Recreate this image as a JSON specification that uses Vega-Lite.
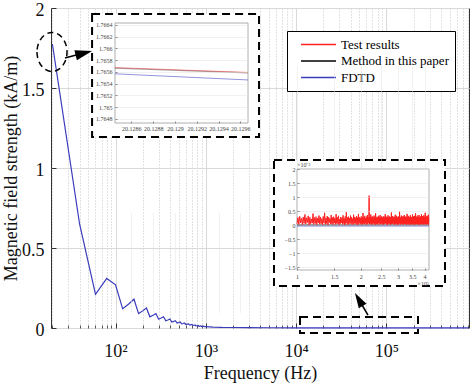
{
  "$schema": "https://vega.github.io/schema/vega-lite/v6.json",
  "width": 418,
  "height": 320,
  "autosize": {"type": "none"},
  "padding": {"left": 51, "top": 8, "right": 5, "bottom": 56},
  "background": "white",
  "config": {
    "view": {"stroke": "#333333", "strokeWidth": 1},
    "font": "Liberation Serif"
  },
  "layer": [
    {
      "layer": [
        {
          "data": {"values": [
            {"f1": 55.0, "f2": 3880, "v1": 1.19375, "v2": 1.9625},
            {"f1": 5684, "f2": 444600, "v1": 0.2625, "v2": 1.05}
          ]},
          "mark": {"type": "rect", "fill": "white", "stroke": "black", "strokeWidth": 2, "strokeDash": [8, 5]},
          "encoding": {
            "x": {"field": "f1", "type": "quantitative", "scale": {"type": "log", "domain": [19.3, 820000], "nice": false},
              "axis": {"orient": "bottom", "values": [20,30,40,50,60,70,80,90,200,300,400,500,600,700,800,900,2000,3000,4000,5000,6000,7000,8000,9000,20000,30000,40000,50000,60000,70000,80000,90000,200000,300000,400000,500000,600000,700000,800000],
                "labels": false, "ticks": true, "tickSize": -3, "tickColor": "#555555", "domain": false, "grid": true, "gridColor": "#c4c4c4", "gridDash": [1, 2], "title": null, "zindex": 0}},
            "x2": {"field": "f2"},
            "y": {"field": "v1", "type": "quantitative", "scale": {"domain": [0, 2], "nice": false, "zero": false}, "axis": null},
            "y2": {"field": "v2"}
          }
        },
        {
          "data": {"values": [{"f1": 11030, "f2": 223400, "v1": -0.03125, "v2": 0.06875}]},
          "mark": {"type": "rect", "fill": "transparent", "stroke": "black", "strokeWidth": 2, "strokeDash": [8, 5]},
          "encoding": {
            "x": {"field": "f1", "type": "quantitative", "axis": null},
            "x2": {"field": "f2"},
            "y": {"field": "v1", "type": "quantitative", "axis": null},
            "y2": {"field": "v2"}
          }
        },
        {
          "data": {"values": [
            {"f": 20, "v": 1.775}, {"f": 40, "v": 0.65}, {"f": 60, "v": 0.21}, {"f": 80, "v": 0.31},
            {"f": 100, "v": 0.27}, {"f": 120, "v": 0.12}, {"f": 140, "v": 0.15}, {"f": 160, "v": 0.18},
            {"f": 180, "v": 0.09}, {"f": 200, "v": 0.107}, {"f": 220, "v": 0.125}, {"f": 240, "v": 0.07},
            {"f": 260, "v": 0.08}, {"f": 280, "v": 0.09}, {"f": 300, "v": 0.055}, {"f": 320, "v": 0.062},
            {"f": 340, "v": 0.07}, {"f": 360, "v": 0.045}, {"f": 380, "v": 0.05}, {"f": 400, "v": 0.056},
            {"f": 420, "v": 0.037}, {"f": 440, "v": 0.041}, {"f": 460, "v": 0.046}, {"f": 480, "v": 0.031},
            {"f": 500, "v": 0.034}, {"f": 520, "v": 0.038}, {"f": 540, "v": 0.026}, {"f": 560, "v": 0.028},
            {"f": 580, "v": 0.031}, {"f": 600, "v": 0.022}, {"f": 620, "v": 0.024}, {"f": 640, "v": 0.026},
            {"f": 660, "v": 0.019}, {"f": 680, "v": 0.02}, {"f": 700, "v": 0.022}, {"f": 720, "v": 0.016},
            {"f": 740, "v": 0.017}, {"f": 760, "v": 0.019}, {"f": 780, "v": 0.013}, {"f": 800, "v": 0.014},
            {"f": 820, "v": 0.016}, {"f": 840, "v": 0.011}, {"f": 860, "v": 0.012}, {"f": 880, "v": 0.013},
            {"f": 900, "v": 0.009}, {"f": 920, "v": 0.01}, {"f": 940, "v": 0.011}, {"f": 960, "v": 0.008},
            {"f": 980, "v": 0.0085}, {"f": 1000, "v": 0.009}, {"f": 1200, "v": 0.006}, {"f": 1500, "v": 0.004},
            {"f": 2000, "v": 0.003}, {"f": 3000, "v": 0.002}, {"f": 5000, "v": 0.0015}, {"f": 10000, "v": 0.001},
            {"f": 100000, "v": 0.0006}, {"f": 820000, "v": 0.0005}
          ]},
          "mark": {"type": "line", "strokeWidth": 1.2},
          "encoding": {
            "x": {"field": "f", "type": "quantitative",
              "axis": {"orient": "bottom", "values": [100, 1000, 10000, 100000],
                "labelExpr": "datum.value == 100 ? '10²' : datum.value == 1000 ? '10³' : datum.value == 10000 ? '10⁴' : '10⁵'",
                "labelFont": "Liberation Serif", "labelFontSize": 18, "labelColor": "#111111", "labelPadding": 19,
                "tickSize": -5, "tickColor": "#333333", "domain": false, "grid": true, "gridColor": "#d9d9d9",
                "title": "Frequency (Hz)", "titleFont": "Liberation Serif", "titleFontSize": 18, "titleFontWeight": "normal",
                "titleColor": "#111111", "titleX": 209, "titleY": 50, "titleBaseline": "alphabetic", "titleAlign": "center",
                "zindex": 0, "labelFlush": false, "labelOverlap": false}},
            "y": {"field": "v", "type": "quantitative",
              "axis": {"orient": "left", "values": [0, 0.5, 1, 1.5, 2], "format": ".1~f",
                "labelFont": "Liberation Serif", "labelFontSize": 18, "labelColor": "#111111", "labelPadding": 12, "labelOffset": 2,
                "tickSize": -5, "tickColor": "#333333", "domain": false, "grid": true, "gridColor": "#d9d9d9",
                "title": "Magnetic field strength (kA/m)", "titleFont": "Liberation Serif", "titleFontSize": 18,
                "titleFontWeight": "normal", "titleColor": "#111111", "titleX": -35, "titleY": 160,
                "titleBaseline": "alphabetic", "titleAlign": "center", "zindex": 0, "labelFlush": false}},
            "color": {"datum": "FDTD", "type": "nominal",
              "scale": {"domain": ["Test results", "Method in this paper", "FDTD"], "range": ["#ff2020", "#000000", "#3b3bbd"]},
              "legend": {"orient": "none", "legendX": 236, "legendY": 23, "title": null, "strokeColor": "black",
                "fillColor": "white", "padding": 6, "labelFont": "Liberation Serif", "labelFontSize": 13, "labelColor": "black",
                "symbolType": "M0.08,0L5.46,0", "symbolSize": 169, "symbolStrokeWidth": 1.5, "rowPadding": 1.5, "labelOffset": 33}}
          }
        },
        {
          "data": {"values": [{}]},
          "mark": {"type": "point", "shape": "M-0.77,0A0.77,1,0,1,0,0.77,0A0.77,1,0,1,0,-0.77,0Z", "size": 1521,
            "stroke": "black", "strokeWidth": 1.5, "strokeDash": [6, 4], "filled": false, "opacity": 1},
          "encoding": {
            "x": {"datum": 19.8, "type": "quantitative", "axis": null},
            "y": {"datum": 1.725, "type": "quantitative", "axis": null}
          }
        },
        {
          "data": {"values": [
            {"f1": 27.6, "v1": 1.6875, "f2": 38.5, "v2": 1.709},
            {"f1": 62420, "v1": 0.081, "f2": 52890, "v2": 0.15}
          ]},
          "mark": {"type": "rule", "stroke": "black", "strokeWidth": 1.5},
          "encoding": {
            "x": {"field": "f1", "type": "quantitative", "axis": null},
            "x2": {"field": "f2"},
            "y": {"field": "v1", "type": "quantitative", "axis": null},
            "y2": {"field": "v2"}
          }
        },
        {
          "data": {"values": [{}]},
          "mark": {"type": "point", "shape": "M1,0L-1,-0.6L-1,0.6Z", "size": 289, "angle": 345.5, "filled": true, "fill": "black", "opacity": 1},
          "encoding": {
            "x": {"datum": 44.6, "type": "quantitative", "axis": null},
            "y": {"datum": 1.718, "type": "quantitative", "axis": null}
          }
        },
        {
          "data": {"values": [{}]},
          "mark": {"type": "point", "shape": "M1,0L-1,-0.6L-1,0.6Z", "size": 225, "angle": 239.4, "filled": true, "fill": "black", "opacity": 1},
          "encoding": {
            "x": {"datum": 49380, "type": "quantitative", "axis": null},
            "y": {"datum": 0.178, "type": "quantitative", "axis": null}
          }
        }
      ],
      "resolve": {"axis": {"x": "independent", "y": "independent"}}
    },
    {
      "layer": [
        {
          "data": {"values": [{}]},
          "mark": {"type": "rect", "fill": "white", "stroke": "#9a9a9a", "strokeWidth": 0.8},
          "encoding": {
            "x": {"datum": 20.12845, "type": "quantitative",
              "scale": {"domain": [20.12845, 20.12967], "range": [64, 197], "nice": false, "zero": false},
              "axis": {"orient": "bottom", "offset": -205, "values": [20.1286, 20.1288, 20.129, 20.1292, 20.1294, 20.1296],
                "format": ".4~f", "labelFont": "Liberation Serif", "labelFontSize": 6, "labelColor": "#444444", "labelPadding": 4,
                "tickSize": -2, "tickColor": "#888888", "domain": false, "grid": true, "gridColor": "#e3e3e3", "gridDash": [1, 1],
                "title": null, "zindex": 1, "labelFlush": false, "labelOverlap": false}},
            "x2": {"datum": 20.12967},
            "y": {"datum": 1.76473, "type": "quantitative",
              "scale": {"domain": [1.76473, 1.76643], "range": [115, 15], "nice": false, "zero": false},
              "axis": {"orient": "left", "offset": -64, "values": [1.7648, 1.765, 1.7652, 1.7654, 1.7656, 1.7658, 1.766, 1.7662, 1.7664],
                "format": ".4~f", "labelFont": "Liberation Serif", "labelFontSize": 6, "labelColor": "#444444", "labelPadding": 5,
                "tickSize": -2, "tickColor": "#888888", "domain": false, "grid": true, "gridColor": "#e3e3e3", "gridDash": [1, 1],
                "title": null, "zindex": 1, "labelOverlap": false}},
            "y2": {"datum": 1.76643}
          }
        },
        {
          "data": {"values": [
            {"f": 20.12845, "v": 1.765566, "s": "FDTD"}, {"f": 20.12967, "v": 1.765462, "s": "FDTD"}
          ]},
          "mark": {"type": "line", "strokeWidth": 1, "opacity": 0.55},
          "encoding": {
            "x": {"field": "f", "type": "quantitative", "axis": null},
            "y": {"field": "v", "type": "quantitative", "axis": null},
            "color": {"field": "s", "type": "nominal", "legend": null}
          }
        },
        {
          "data": {"values": [
            {"f": 20.12845, "v": 1.765664, "s": "Method in this paper"}, {"f": 20.12967, "v": 1.765582, "s": "Method in this paper"}
          ]},
          "mark": {"type": "line", "strokeWidth": 1.2, "opacity": 0.35},
          "encoding": {
            "x": {"field": "f", "type": "quantitative", "axis": null},
            "y": {"field": "v", "type": "quantitative", "axis": null},
            "color": {"field": "s", "type": "nominal", "legend": null}
          }
        },
        {
          "data": {"values": [
            {"f": 20.12845, "v": 1.765672, "s": "Test results"}, {"f": 20.12967, "v": 1.76559, "s": "Test results"}
          ]},
          "mark": {"type": "line", "strokeWidth": 1, "opacity": 0.45},
          "encoding": {
            "x": {"field": "f", "type": "quantitative", "axis": null},
            "y": {"field": "v", "type": "quantitative", "axis": null},
            "color": {"field": "s", "type": "nominal", "legend": null}
          }
        }
      ],
      "resolve": {"axis": {"x": "independent", "y": "independent"}}
    },
    {
      "layer": [
        {
          "data": {"values": [{}]},
          "mark": {"type": "rect", "fill": "white", "stroke": "#9a9a9a", "strokeWidth": 0.8},
          "encoding": {
            "x": {"datum": 1, "type": "quantitative",
              "scale": {"type": "log", "domain": [1, 4.2], "range": [246, 378], "nice": false},
              "axis": {"orient": "bottom", "offset": -58, "values": [1, 1.5, 2, 2.5, 3, 3.5, 4],
                "format": "~g", "labelFont": "Liberation Serif", "labelFontSize": 6, "labelColor": "#444444", "labelPadding": 5,
                "tickSize": -2, "tickColor": "#888888", "domain": false, "grid": true, "gridColor": "#e3e3e3", "gridDash": [1, 1],
                "title": null, "zindex": 1, "labelFlush": false, "labelOverlap": false}},
            "x2": {"datum": 4.2},
            "y": {"datum": -1.6, "type": "quantitative",
              "scale": {"domain": [-1.6, 2], "range": [262, 161], "nice": false, "zero": false},
              "axis": {"orient": "left", "offset": -246, "values": [-1.5, -1, -0.5, 0, 0.5, 1, 1.5, 2],
                "format": "~g", "labelFont": "Liberation Serif", "labelFontSize": 6, "labelColor": "#444444", "labelPadding": 4,
                "tickSize": -2, "tickColor": "#888888", "domain": false, "grid": true, "gridColor": "#e3e3e3", "gridDash": [1, 1],
                "title": null, "zindex": 1, "labelOverlap": false}},
            "y2": {"datum": 2}
          }
        },
        {
          "data": {"values": [
            {"f": 1, "v": 0.0, "s": "Method in this paper"}, {"f": 4.2, "v": 0.0, "s": "Method in this paper"}
          ]},
          "mark": {"type": "line", "strokeWidth": 1},
          "encoding": {
            "x": {"field": "f", "type": "quantitative", "axis": null},
            "y": {"field": "v", "type": "quantitative", "axis": null},
            "color": {"field": "s", "type": "nominal", "legend": null}
          }
        },
        {
          "data": {"values": [
            {"f": 1, "v": -0.03, "s": "FDTD"}, {"f": 4.2, "v": -0.03, "s": "FDTD"}
          ]},
          "mark": {"type": "line", "strokeWidth": 1, "opacity": 0.7},
          "encoding": {
            "x": {"field": "f", "type": "quantitative", "axis": null},
            "y": {"field": "v", "type": "quantitative", "axis": null},
            "color": {"field": "s", "type": "nominal", "legend": null}
          }
        },
        {
          "data": {"values": [
            {"f":1.00,"v":0.05},{"f":1.01,"v":0.27},{"f":1.02,"v":0.03},{"f":1.03,"v":0.31},{"f":1.04,"v":0.08},{"f":1.05,"v":0.24},{"f":1.06,"v":0.02},{"f":1.07,"v":0.29},{"f":1.08,"v":0.06},{"f":1.09,"v":0.38},
            {"f":1.10,"v":0.04},{"f":1.11,"v":0.26},{"f":1.12,"v":0.09},{"f":1.13,"v":0.33},{"f":1.14,"v":0.01},{"f":1.15,"v":0.28},{"f":1.16,"v":0.05},{"f":1.17,"v":0.22},{"f":1.18,"v":0.07},{"f":1.19,"v":0.41},
            {"f":1.20,"v":0.03},{"f":1.21,"v":0.27},{"f":1.22,"v":0.06},{"f":1.23,"v":0.30},{"f":1.24,"v":0.02},{"f":1.25,"v":0.25},{"f":1.26,"v":0.08},{"f":1.27,"v":0.34},{"f":1.28,"v":0.04},{"f":1.29,"v":0.29},
            {"f":1.30,"v":0.05},{"f":1.31,"v":0.23},{"f":1.32,"v":0.02},{"f":1.33,"v":0.31},{"f":1.34,"v":0.07},{"f":1.35,"v":0.44},{"f":1.36,"v":0.03},{"f":1.37,"v":0.26},{"f":1.38,"v":0.06},{"f":1.39,"v":0.32},
            {"f":1.40,"v":0.01},{"f":1.41,"v":0.28},{"f":1.42,"v":0.09},{"f":1.43,"v":0.24},{"f":1.44,"v":0.04},{"f":1.45,"v":0.36},{"f":1.46,"v":0.05},{"f":1.47,"v":0.27},{"f":1.48,"v":0.02},{"f":1.49,"v":0.30},
            {"f":1.50,"v":0.07},{"f":1.51,"v":0.25},{"f":1.52,"v":0.03},{"f":1.53,"v":0.39},{"f":1.54,"v":0.06},{"f":1.55,"v":0.28},{"f":1.56,"v":0.04},{"f":1.57,"v":0.33},{"f":1.58,"v":0.02},{"f":1.59,"v":0.21},
            {"f":1.60,"v":0.05},{"f":1.61,"v":0.29},{"f":1.62,"v":0.08},{"f":1.63,"v":0.26},{"f":1.64,"v":0.03},{"f":1.65,"v":0.35},{"f":1.66,"v":0.06},{"f":1.67,"v":0.24},{"f":1.68,"v":0.01},{"f":1.69,"v":0.31},
            {"f":1.70,"v":0.05},{"f":1.71,"v":0.46},{"f":1.72,"v":0.07},{"f":1.73,"v":0.27},{"f":1.74,"v":0.02},{"f":1.75,"v":0.30},{"f":1.76,"v":0.04},{"f":1.77,"v":0.25},{"f":1.78,"v":0.09},{"f":1.79,"v":0.34},
            {"f":1.80,"v":0.03},{"f":1.81,"v":0.28},{"f":1.82,"v":0.06},{"f":1.83,"v":0.23},{"f":1.84,"v":0.02},{"f":1.85,"v":0.37},{"f":1.86,"v":0.05},{"f":1.87,"v":0.29},{"f":1.88,"v":0.07},{"f":1.89,"v":0.26},
            {"f":1.90,"v":0.03},{"f":1.91,"v":0.32},{"f":1.92,"v":0.06},{"f":1.93,"v":0.27},{"f":1.94,"v":0.01},{"f":1.95,"v":0.40},{"f":1.96,"v":0.04},{"f":1.97,"v":0.28},{"f":1.98,"v":0.08},{"f":1.99,"v":0.25},
            {"f":2.00,"v":0.03},{"f":2.01,"v":0.31},{"f":2.02,"v":0.05},{"f":2.03,"v":0.29},{"f":2.04,"v":0.02},{"f":2.05,"v":0.43},{"f":2.06,"v":0.06},{"f":2.07,"v":0.26},{"f":2.08,"v":0.04},{"f":2.09,"v":0.33},
            {"f":2.10,"v":0.07},{"f":2.11,"v":0.24},{"f":2.12,"v":0.02},{"f":2.13,"v":0.30},{"f":2.14,"v":0.05},{"f":2.15,"v":0.36},{"f":2.16,"v":0.03},{"f":2.17,"v":0.27},{"f":2.18,"v":0.08},{"f":2.19,"v":1.05},
            {"f":2.20,"v":0.04},{"f":2.21,"v":0.25},{"f":2.22,"v":0.06},{"f":2.23,"v":0.38},{"f":2.24,"v":0.02},{"f":2.25,"v":0.28},{"f":2.26,"v":0.05},{"f":2.27,"v":0.31},{"f":2.28,"v":0.03},{"f":2.29,"v":0.26},
            {"f":2.30,"v":0.07},{"f":2.31,"v":0.34},{"f":2.32,"v":0.04},{"f":2.33,"v":0.29},{"f":2.34,"v":0.01},{"f":2.35,"v":0.42},{"f":2.36,"v":0.06},{"f":2.37,"v":0.27},{"f":2.38,"v":0.03},{"f":2.39,"v":0.30},
            {"f":2.40,"v":0.05},{"f":2.41,"v":0.25},{"f":2.42,"v":0.08},{"f":2.43,"v":0.33},{"f":2.44,"v":0.02},{"f":2.45,"v":0.28},{"f":2.46,"v":0.06},{"f":2.47,"v":0.36},{"f":2.48,"v":0.04},{"f":2.49,"v":0.26},
            {"f":2.50,"v":0.07},{"f":2.51,"v":0.31},{"f":2.52,"v":0.03},{"f":2.53,"v":0.29},{"f":2.54,"v":0.05},{"f":2.55,"v":0.24},{"f":2.56,"v":0.02},{"f":2.57,"v":0.32},{"f":2.58,"v":0.06},{"f":2.59,"v":0.27},
            {"f":2.60,"v":0.04},{"f":2.61,"v":0.39},{"f":2.62,"v":0.08},{"f":2.63,"v":0.25},{"f":2.64,"v":0.03},{"f":2.65,"v":0.30},{"f":2.66,"v":0.05},{"f":2.67,"v":0.28},{"f":2.68,"v":0.01},{"f":2.69,"v":0.35},
            {"f":2.70,"v":0.06},{"f":2.71,"v":0.26},{"f":2.72,"v":0.04},{"f":2.73,"v":0.31},{"f":2.74,"v":0.07},{"f":2.75,"v":0.23},{"f":2.76,"v":0.02},{"f":2.77,"v":0.29},{"f":2.78,"v":0.05},{"f":2.79,"v":0.45},
            {"f":2.80,"v":0.03},{"f":2.81,"v":0.27},{"f":2.82,"v":0.06},{"f":2.83,"v":0.32},{"f":2.84,"v":0.04},{"f":2.85,"v":0.25},{"f":2.86,"v":0.08},{"f":2.87,"v":0.30},{"f":2.88,"v":0.02},{"f":2.89,"v":0.28},
            {"f":2.90,"v":0.05},{"f":2.91,"v":0.37},{"f":2.92,"v":0.03},{"f":2.93,"v":0.26},{"f":2.94,"v":0.07},{"f":2.95,"v":0.33},{"f":2.96,"v":0.04},{"f":2.97,"v":0.29},{"f":2.98,"v":0.01},{"f":2.99,"v":0.24},
            {"f":3.00,"v":0.06},{"f":3.01,"v":0.31},{"f":3.02,"v":0.03},{"f":3.03,"v":0.27},{"f":3.04,"v":0.05},{"f":3.05,"v":0.48},{"f":3.06,"v":0.08},{"f":3.07,"v":0.28},{"f":3.08,"v":0.02},{"f":3.09,"v":0.25},
            {"f":3.10,"v":0.04},{"f":3.11,"v":0.34},{"f":3.12,"v":0.06},{"f":3.13,"v":0.30},{"f":3.14,"v":0.03},{"f":3.15,"v":0.26},{"f":3.16,"v":0.07},{"f":3.17,"v":0.32},{"f":3.18,"v":0.02},{"f":3.19,"v":0.28},
            {"f":3.20,"v":0.05},{"f":3.21,"v":0.36},{"f":3.22,"v":0.04},{"f":3.23,"v":0.24},{"f":3.24,"v":0.08},{"f":3.25,"v":0.29},{"f":3.26,"v":0.03},{"f":3.27,"v":0.31},{"f":3.28,"v":0.06},{"f":3.29,"v":0.27},
            {"f":3.30,"v":0.02},{"f":3.31,"v":0.40},{"f":3.32,"v":0.05},{"f":3.33,"v":0.26},{"f":3.34,"v":0.07},{"f":3.35,"v":0.33},{"f":3.36,"v":0.03},{"f":3.37,"v":0.28},{"f":3.38,"v":0.04},{"f":3.39,"v":0.25},
            {"f":3.40,"v":0.06},{"f":3.41,"v":0.30},{"f":3.42,"v":0.01},{"f":3.43,"v":0.35},{"f":3.44,"v":0.05},{"f":3.45,"v":0.27},{"f":3.46,"v":0.08},{"f":3.47,"v":0.29},{"f":3.48,"v":0.03},{"f":3.49,"v":0.24},
            {"f":3.50,"v":0.06},{"f":3.51,"v":0.38},{"f":3.52,"v":0.04},{"f":3.53,"v":0.28},{"f":3.54,"v":0.02},{"f":3.55,"v":0.31},{"f":3.56,"v":0.07},{"f":3.57,"v":0.26},{"f":3.58,"v":0.03},{"f":3.59,"v":0.33},
            {"f":3.60,"v":0.05},{"f":3.61,"v":0.29},{"f":3.62,"v":0.02},{"f":3.63,"v":0.42},{"f":3.64,"v":0.06},{"f":3.65,"v":0.25},{"f":3.66,"v":0.04},{"f":3.67,"v":0.30},{"f":3.68,"v":0.08},{"f":3.69,"v":0.27},
            {"f":3.70,"v":0.03},{"f":3.71,"v":0.34},{"f":3.72,"v":0.05},{"f":3.73,"v":0.28},{"f":3.74,"v":0.01},{"f":3.75,"v":0.26},{"f":3.76,"v":0.06},{"f":3.77,"v":0.36},{"f":3.78,"v":0.04},{"f":3.79,"v":0.29},
            {"f":3.80,"v":0.07},{"f":3.81,"v":0.24},{"f":3.82,"v":0.02},{"f":3.83,"v":0.31},{"f":3.84,"v":0.05},{"f":3.85,"v":0.27},{"f":3.86,"v":0.03},{"f":3.87,"v":0.39},{"f":3.88,"v":0.06},{"f":3.89,"v":0.28},
            {"f":3.90,"v":0.04},{"f":3.91,"v":0.32},{"f":3.92,"v":0.08},{"f":3.93,"v":0.25},{"f":3.94,"v":0.02},{"f":3.95,"v":0.30},{"f":3.96,"v":0.05},{"f":3.97,"v":0.35},{"f":3.98,"v":0.03},{"f":3.99,"v":0.27},
            {"f":4.00,"v":0.06},{"f":4.01,"v":0.29},{"f":4.02,"v":0.04},{"f":4.03,"v":0.44},{"f":4.04,"v":0.07},{"f":4.05,"v":0.26},{"f":4.06,"v":0.02},{"f":4.07,"v":0.31},{"f":4.08,"v":0.05},{"f":4.09,"v":0.28},
            {"f":4.10,"v":0.03},{"f":4.11,"v":0.33},{"f":4.12,"v":0.06},{"f":4.13,"v":0.25},{"f":4.14,"v":0.04},{"f":4.15,"v":0.30},{"f":4.16,"v":0.08},{"f":4.17,"v":0.37},{"f":4.18,"v":0.02},{"f":4.19,"v":0.27}
          ]},
          "mark": {"type": "line", "strokeWidth": 1},
          "encoding": {
            "x": {"field": "f", "type": "quantitative", "axis": null},
            "y": {"field": "v", "type": "quantitative", "axis": null},
            "color": {"datum": "Test results", "type": "nominal", "legend": null}
          }
        },
        {
          "data": {"values": [{"t": "×10⁻³"}]},
          "mark": {"type": "text", "align": "left", "baseline": "bottom", "dy": -1, "fontSize": 6, "font": "Liberation Serif", "color": "#444444"},
          "encoding": {
            "x": {"datum": 1, "type": "quantitative", "axis": null},
            "y": {"datum": 2, "type": "quantitative", "axis": null},
            "text": {"field": "t"}
          }
        },
        {
          "data": {"values": [{"t": "×10⁵"}]},
          "mark": {"type": "text", "align": "right", "baseline": "top", "dy": 11, "fontSize": 6, "font": "Liberation Serif", "color": "#444444"},
          "encoding": {
            "x": {"datum": 4.2, "type": "quantitative", "axis": null},
            "y": {"datum": -1.6, "type": "quantitative", "axis": null},
            "text": {"field": "t"}
          }
        }
      ],
      "resolve": {"axis": {"x": "independent", "y": "independent"}}
    }
  ],
  "resolve": {"scale": {"x": "independent", "y": "independent"}}
}
